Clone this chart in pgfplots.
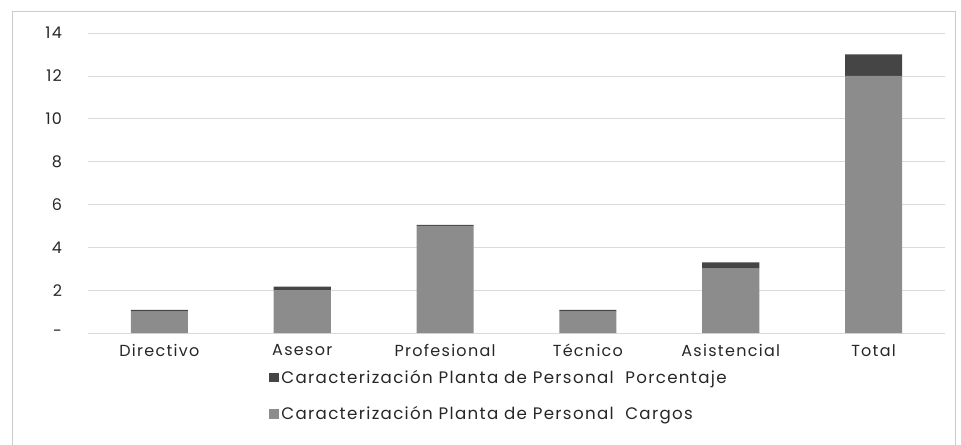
\documentclass[border=0pt]{standalone}
\usepackage{pgfplots}
\pgfplotsset{compat=1.18}
\usepackage{fontspec}
\setmainfont{Poppins}[LetterSpace=8]
\definecolor{cargos}{HTML}{8C8C8C}
\definecolor{porc}{HTML}{454545}
\definecolor{gridc}{HTML}{DADADA}
\begin{document}
\begin{tikzpicture}
\begin{axis}[
  scale only axis,
  width=642.75pt, height=225pt,
  ybar stacked,
  bar width=0.4,
  xmin=-0.5, xmax=5.5,
  ymin=0, ymax=14,
  xtick={0,1,2,3,4,5},
  xticklabels={Directivo,Asesor,Profesional,Técnico,Asistencial,Total},
  ytick={0,2,4,6,8,10,12,14},
  yticklabels={-,2,4,6,8,10,12,14},
  major tick length=0pt,
  axis line style={draw=none},
  ymajorgrids,
  grid style={gridc, line width=0.5pt},
  tick label style={font=\fontsize{12}{13}\selectfont, text=black!85},
  xticklabel style={yshift=-5pt},
  yticklabel style={xshift=-16pt},
  legend style={at={(0.48,-0.105)}, anchor=north, draw=none, fill=none,
    font=\fontsize{12.5}{13}\selectfont, text=black!85,
    legend cell align=left, row sep=12pt},
  legend image code/.code={\fill[#1] (0pt,-3.5pt) rectangle (7pt,3.5pt);},
  reverse legend,
]
\addplot[fill=cargos, draw=none] coordinates {(0,1) (1,2) (2,5) (3,1) (4,3) (5,12)};
\addlegendentry{Caracterización Planta de Personal\ \ Cargos}
\addplot[fill=porc, draw=none] coordinates {(0,0.08) (1,0.17) (2,0.05) (3,0.08) (4,0.3) (5,1)};
\addlegendentry{Caracterización Planta de Personal\ \ Porcentaje}
\end{axis}
\draw[gray!40, line width=0.6pt] (-57pt,-90pt) -- (-57pt,241.5pt) -- (650.25pt,241.5pt) -- (650.25pt,-90pt);
\pgfresetboundingbox
\useasboundingbox (-66pt,-83.25pt) rectangle (654.75pt,249.75pt);
\end{tikzpicture}
\end{document}
